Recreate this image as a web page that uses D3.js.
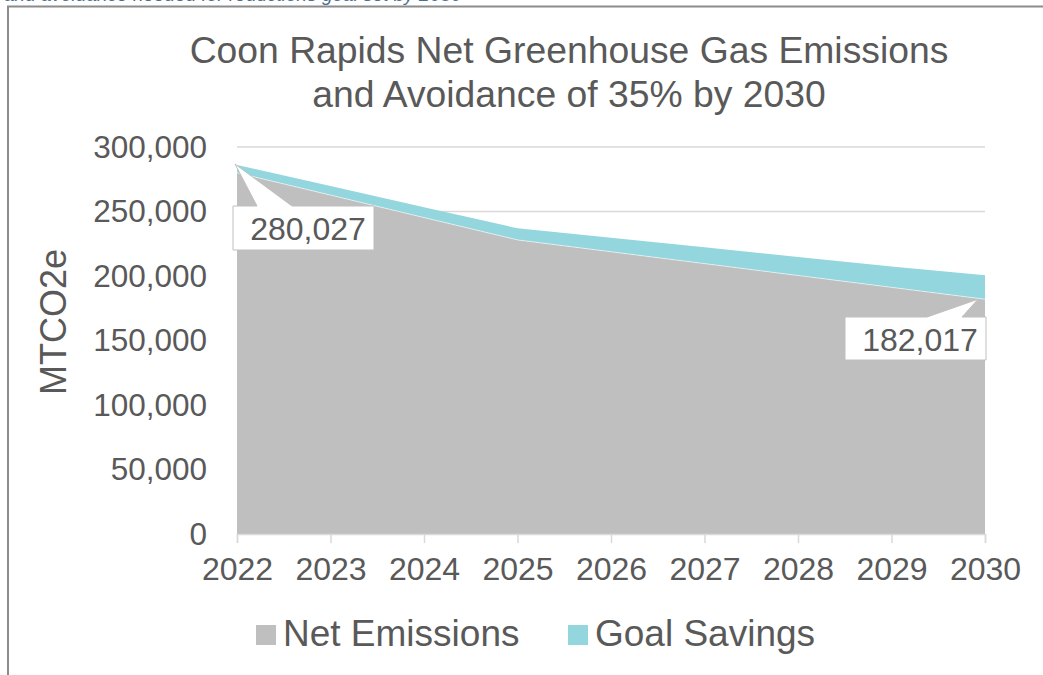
<!DOCTYPE html>
<html><head><meta charset="utf-8">
<script src="https://cdn.jsdelivr.net/npm/d3@7"></script>
<style>body{margin:0;background:#fff;overflow:hidden}svg{display:block}text{font-family:"Liberation Sans",Arial,sans-serif}</style>
</head><body>
<script>
const years = [2022, 2023, 2024, 2025, 2026, 2027, 2028, 2029, 2030];
const netEmissions = [280027, 262700, 245300, 228000, 218800, 209600, 200400, 191200, 182017];
const goalSavings = [6000, 7000, 8000, 9000, 10800, 12600, 14400, 16200, 18500];
const yTicks = [0, 50000, 100000, 150000, 200000, 250000, 300000];
const seriesNames = ["Net Emissions", "Goal Savings"];
const seriesColors = ["#bfbfbf", "#93d6de"];
const titleLines = ["Coon Rapids Net Greenhouse Gas Emissions", "and Avoidance of 35% by 2030"];
const yTitle = "MTCO2e";
const calloutLabels = ["280,027", "182,017"];

const W = 1043, H = 675;
const svg = d3.select("body").append("svg").attr("width", W).attr("height", H);
const txt = "#595959";

// clipped text above frame (as in the reference, only its lower edge shows)
svg.append("text").attr("x", 4).attr("y", 1).attr("font-size", 19).attr("font-style", "italic")
  .attr("fill", "#4a6f8f").text("and avoidance needed for reductions goal set by 2030");

// frame
svg.append("path").attr("d", `M8,675 V6.5 H${W}`).attr("fill", "none").attr("stroke", "#8c8c8c").attr("stroke-width", 2);

const x = d3.scaleLinear().domain([2022, 2030]).range([237, 985]);
const y = d3.scaleLinear().domain([0, 300000]).range([534, 147]);

// gridlines
svg.append("g").selectAll("line").data(yTicks.filter(d => d > 0)).join("line")
  .attr("x1", x(2022)).attr("x2", x(2030)).attr("y1", d => y(d)).attr("y2", d => y(d))
  .attr("stroke", "#d9d9d9").attr("stroke-width", 1.5);

// stacked areas
const rows = years.map((yr, i) => ({year: yr, net: netEmissions[i], sav: goalSavings[i]}));
const stack = d3.stack().keys(["net", "sav"])(rows);
const area = d3.area().x(d => x(d.data.year)).y0(d => y(d[0])).y1(d => y(d[1]));
svg.append("g").selectAll("path").data(stack).join("path")
  .attr("d", area).attr("fill", (d, i) => seriesColors[i]);
svg.append("path").attr("d", d3.line().x(d => x(d.year)).y(d => y(d.net))(rows))
  .attr("fill", "none").attr("stroke", "#ffffff").attr("stroke-width", 0.8).attr("opacity", 0.7);

// x axis
const xAxis = d3.axisBottom(x).tickValues(years).tickFormat(d3.format("d")).tickSize(9).tickPadding(14);
const gx = svg.append("g").attr("transform", `translate(0,${y(0)})`).call(xAxis);
gx.select(".domain").attr("stroke", "#d9d9d9").attr("stroke-width", 1.5);
gx.selectAll(".tick line").attr("stroke", "#d9d9d9").attr("stroke-width", 1.5);
gx.selectAll(".tick text").attr("fill", txt).attr("font-size", 32).attr("dy", "0.71em")
  .attr("font-family", '"Liberation Sans", Arial, sans-serif');

// y axis
const yAxis = d3.axisLeft(y).tickValues(yTicks).tickFormat(d3.format(",")).tickSize(0).tickPadding(30);
const gy = svg.append("g").attr("transform", `translate(${x(2022)},0)`).call(yAxis);
gy.select(".domain").remove();
gy.selectAll(".tick text").attr("fill", txt).attr("font-size", 31.5)
  .attr("font-family", '"Liberation Sans", Arial, sans-serif');

// y title
svg.append("text").attr("transform", `translate(66,322) rotate(-90)`).attr("text-anchor", "middle")
  .attr("font-size", 36).attr("fill", txt).text(yTitle);

// title
svg.append("g").selectAll("text").data(titleLines).join("text")
  .attr("x", 569).attr("y", (d, i) => 63 + i * 44).attr("text-anchor", "middle")
  .attr("font-size", 37.3).attr("fill", txt).text(d => d);

// callouts
const callouts = [
  {tip: [x(2022) - 2, y(netEmissions[0] + goalSavings[0]) - 1], box: [233, 206, 141, 44], base: [257, 292], label: calloutLabels[0], tx: 308},
  {tip: [x(2030) - 7, y(netEmissions[8])], box: [845, 317, 141, 43], base: [927, 962], label: calloutLabels[1], tx: 920}
];
callouts.forEach(c => {
  const [bx, by, bw, bh] = c.box;
  const p = `M${bx},${by} H${c.base[0]} L${c.tip[0]},${c.tip[1]} L${c.base[1]},${by} H${bx + bw} V${by + bh} H${bx} Z`;
  svg.append("path").attr("d", p).attr("fill", "#fff").attr("stroke", "#bfbfbf").attr("stroke-width", 1);
  svg.append("text").attr("x", c.tx).attr("y", by + 34).attr("text-anchor", "middle")
    .attr("font-size", 32).attr("fill", txt).text(c.label);
});

// legend
const legX = [256, 568];
const lg = svg.append("g").selectAll("g").data(seriesNames).join("g")
  .attr("transform", (d, i) => `translate(${legX[i]},0)`);
lg.append("rect").attr("x", 0).attr("y", 625).attr("width", 20).attr("height", 20).attr("fill", (d, i) => seriesColors[i]);
lg.append("text").attr("x", 27).attr("y", 646).attr("font-size", 37).attr("fill", txt).text(d => d);
</script>
</body></html>
